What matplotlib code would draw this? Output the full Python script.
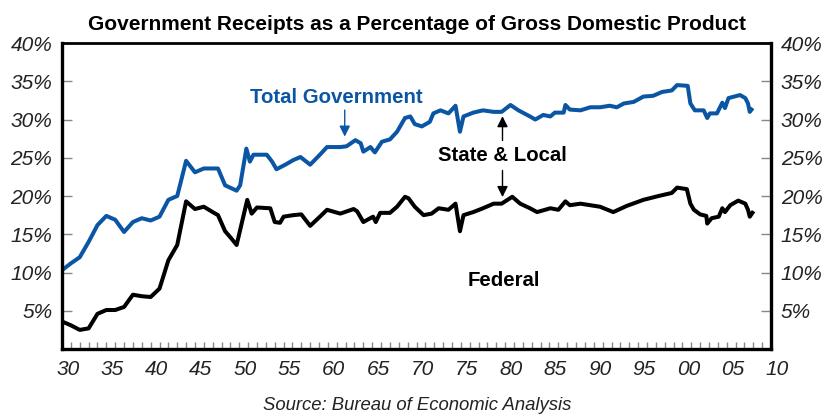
import matplotlib
matplotlib.use('Agg')
import matplotlib.pyplot as plt
import matplotlib.transforms as mtransforms

# Globals and constants variables.
BLUE = '#0b56a4'

# Total government receipts, % of GDP
total_years = [1930, 1931, 1932, 1933, 1934, 1935, 1936, 1937, 1938, 1939,
               1940, 1941, 1942, 1943, 1944, 1945, 1946, 1947, 1947.6, 1948.4,
               1949.7, 1950.1, 1950.8, 1951.2, 1951.6, 1953.1, 1953.7, 1954.2,
               1955.2, 1956.1, 1956.9, 1958.0, 1959.1, 1959.9, 1961.4, 1962.1,
               1963.1, 1963.7, 1964.0, 1964.8, 1965.3, 1966.1, 1967.0, 1967.8,
               1968.7, 1969.3, 1969.8, 1970.6, 1971.5, 1971.9, 1972.7, 1973.6,
               1974.4, 1974.9, 1975.3, 1976.4, 1977.5, 1978.7, 1979.6, 1980.6,
               1981.5, 1982.8, 1983.4, 1984.3, 1985.1, 1985.6, 1986.6, 1986.8,
               1987.3, 1988.5, 1989.6, 1990.7, 1991.8, 1992.6, 1993.4, 1994.5,
               1995.6, 1996.7, 1997.7, 1998.8, 1999.4, 2000.6, 2000.9, 2001.4,
               2002.4, 2002.8, 2003.1, 2003.9, 2004.5, 2004.8, 2005.2, 2006.5,
               2007.1, 2007.4, 2007.6, 2007.8]
total_pct = [10.3, 11.2, 12.0, 14.0, 16.2, 17.4, 16.9, 15.3, 16.6, 17.1,
             16.8, 17.3, 19.5, 20.0, 24.6, 23.1, 23.6, 23.6, 23.6, 21.4,
             20.7, 21.4, 26.2, 24.5, 25.4, 25.4, 24.5, 23.5,
             24.1, 24.7, 25.1, 24.1, 25.4, 26.4, 26.4, 26.5,
             27.3, 26.9, 25.8, 26.4, 25.7, 27.1, 27.4, 28.4,
             30.2, 30.4, 29.4, 29.1, 29.7, 30.8, 31.2, 30.8,
             31.8, 28.4, 30.4, 30.9, 31.2, 31.0, 31.0, 31.9,
             31.2, 30.4, 30.0, 30.6, 30.4, 30.9, 30.9, 31.9,
             31.3, 31.2, 31.6, 31.6, 31.8, 31.6, 32.1, 32.3,
             33.0, 33.1, 33.6, 33.8, 34.5, 34.4, 32.1, 31.2,
             31.2, 30.2, 30.8, 30.8, 32.2, 31.5, 32.8, 33.2,
             32.8, 32.1, 31.0, 31.3]

# Federal receipts, % of GDP
federal_years = [1930, 1931, 1932, 1933, 1934, 1935, 1936, 1937, 1938, 1939,
                 1940, 1941, 1942, 1943, 1944, 1945, 1946, 1947, 1947.6, 1948.4,
                 1949.0, 1949.7, 1950.9, 1951.4, 1952.0, 1953.5, 1954.0, 1954.6,
                 1955.0, 1956.1, 1957.0, 1958.0, 1959.1, 1959.9, 1961.4, 1962.9,
                 1963.3, 1964.0, 1965.1, 1965.4, 1965.9, 1967.0, 1967.8, 1968.7,
                 1969.1, 1969.8, 1970.8, 1971.7, 1972.5, 1973.6, 1974.4, 1974.9,
                 1975.3, 1976.4, 1977.5, 1978.7, 1979.6, 1980.8, 1981.7, 1982.8,
                 1983.6, 1985.1, 1986.0, 1986.8, 1987.3, 1988.5, 1989.6, 1990.7,
                 1992.2, 1993.7, 1995.6, 1997.3, 1998.8, 1999.4, 2000.5, 2000.9,
                 2001.3, 2002.0, 2002.7, 2002.8, 2003.3, 2004.1, 2004.5, 2004.8,
                 2005.4, 2006.3, 2007.1, 2007.4, 2007.6, 2007.9]
federal_pct = [3.6, 3.1, 2.5, 2.7, 4.6, 5.1, 5.1, 5.5, 7.1, 6.9,
               6.8, 7.9, 11.6, 13.6, 19.3, 18.3, 18.6, 17.9, 17.5, 15.4,
               14.6, 13.6, 19.5, 17.7, 18.5, 18.4, 16.6, 16.5,
               17.3, 17.5, 17.6, 16.1, 17.3, 18.2, 17.7, 18.3,
               18.0, 16.6, 17.3, 16.6, 17.8, 17.8, 18.6, 19.9,
               19.7, 18.6, 17.5, 17.7, 18.4, 18.2, 19.0, 15.4,
               17.5, 17.9, 18.4, 19.0, 19.0, 19.9, 19.0, 18.4,
               17.9, 18.4, 18.2, 19.3, 18.8, 19.0, 18.8, 18.6,
               17.9, 18.7, 19.5, 20.0, 20.4, 21.1, 20.9, 19.0,
               18.2, 17.6, 17.4, 16.4, 17.1, 17.3, 18.4, 17.9,
               18.8, 19.4, 19.0, 18.2, 17.3, 17.8]

y_ticks = [5, 10, 15, 20, 25, 30, 35, 40]
y_labels = ['5%', '10%', '15%', '20%', '25%', '30%', '35%', '40%']
x_label_years = list(range(1930, 2011, 5))
x_labels = ['%02d' % (y % 100) for y in x_label_years]

plt.rcParams['font.family'] = ['Liberation Sans', 'DejaVu Sans']

fig = plt.figure(figsize=(8.28, 4.16), dpi=100)
ax = fig.add_axes([0.0749, 0.161, 0.8563, 0.7356])

ax.plot(total_years, total_pct, color=BLUE, lw=2.9, solid_joinstyle='round')
ax.plot(federal_years, federal_pct, color='black', lw=2.9, solid_joinstyle='round')

ax.set_xlim(1930, 2010)
ax.set_ylim(0, 40)

for side in ['left', 'right', 'bottom', 'top']:
    ax.spines[side].set_linewidth(2.4)
ax.spines['top'].set_linewidth(2.0)

# y axis, both sides
ax.set_yticks(y_ticks)
ax.set_yticklabels(y_labels)
ax.tick_params(axis='y', direction='in', length=7, width=1, color='#888888',
               labelsize=15, pad=7, labelright=True, right=True,
               labelcolor='#222222')
for t in ax.yaxis.get_major_ticks():
    t.label1.set_fontstyle('italic')
    t.label2.set_fontstyle('italic')

# x axis, tick every year, labels every 5 years
ax.set_xticks(range(1930, 2011))
ax.set_xticklabels([''] * 81)
ax.tick_params(axis='x', direction='in', length=5, width=1, color='#888888')
for yr, lab in zip(x_label_years, x_labels):
    ax.text(yr, -0.035, lab, transform=ax.get_xaxis_transform() +
            mtransforms.ScaledTranslation(6 / 100, 0, fig.dpi_scale_trans),
            ha='center', va='top', fontsize=15, style='italic', color='#222222')

# annotations
ax.text(1961.0, 32.9, 'Total Government', color=BLUE, fontsize=14.7,
        fontweight='bold', ha='center', va='center')
ax.annotate('', xy=(1961.9, 27.4), xytext=(1961.9, 31.6),
            arrowprops=dict(arrowstyle='-|>', color=BLUE, lw=1,
                            mutation_scale=16))
ax.text(1979.7, 25.3, 'State & Local', color='black', fontsize=14.7,
        fontweight='bold', ha='center', va='center')
ax.annotate('', xy=(1979.7, 30.8), xytext=(1979.7, 26.9),
            arrowprops=dict(arrowstyle='-|>', color='black', lw=1,
                            mutation_scale=16))
ax.annotate('', xy=(1979.7, 19.5), xytext=(1979.7, 23.7),
            arrowprops=dict(arrowstyle='-|>', color='black', lw=1,
                            mutation_scale=16))
ax.text(1979.8, 9.0, 'Federal', color='black', fontsize=14.7,
        fontweight='bold', ha='center', va='center')

fig.text(0.504, 0.94, 'Government Receipts as a Percentage of Gross Domestic Product',
         ha='center', va='center', fontsize=15, fontweight='bold')
fig.text(0.504, 0.025, 'Source: Bureau of Economic Analysis', ha='center',
         va='center', fontsize=13.3, style='italic', color='#222222')

fig.savefig('out.png', dpi=100)
